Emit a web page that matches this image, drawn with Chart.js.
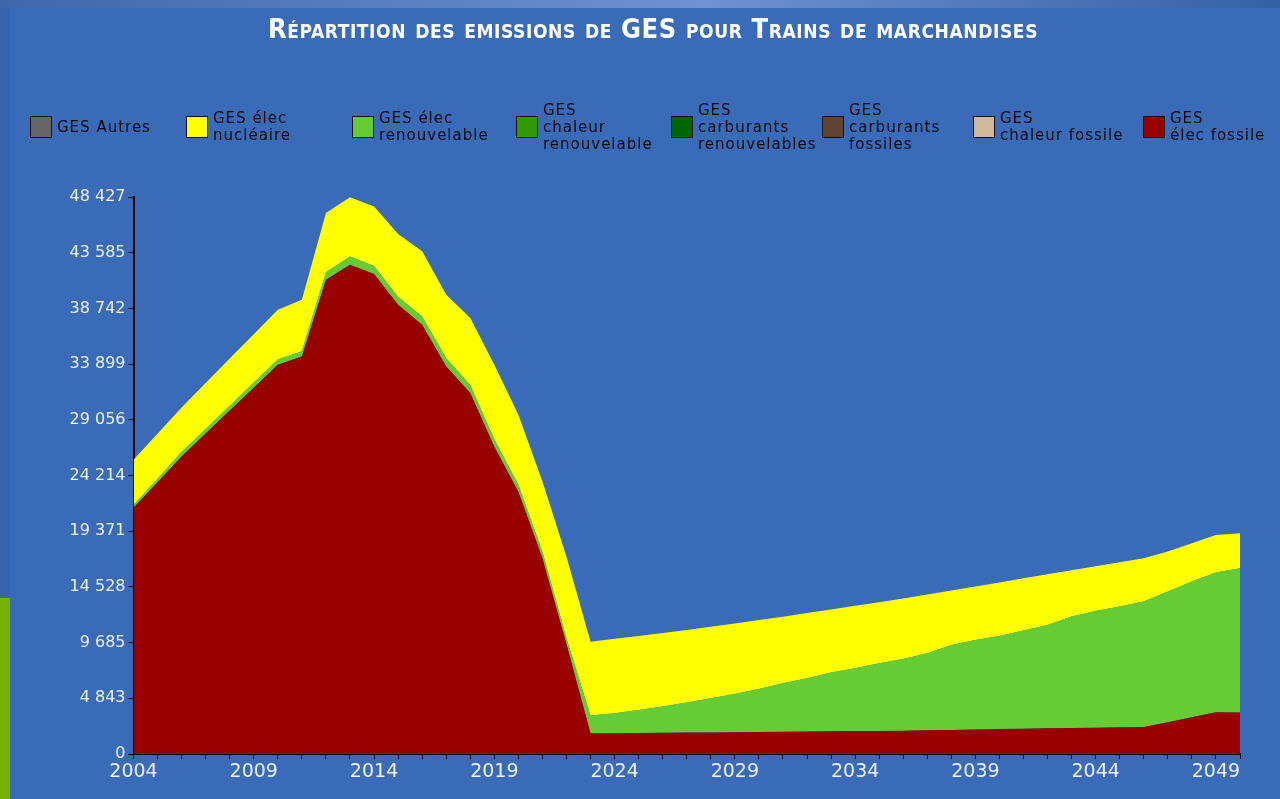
<!DOCTYPE html>
<html>
<head>
<meta charset="utf-8">
<script src="https://cdn.jsdelivr.net/npm/chart.js@4.4.0/dist/chart.umd.min.js"></script>
<style>
    html, body { margin: 0; padding: 0; }
    body {
        width: 1280px; height: 799px; overflow: hidden; position: relative;
        background: #3a6bb8; font-family: "DejaVu Sans", sans-serif;
    }
    #topbar { position: absolute; left: 0; top: 0; width: 1280px; height: 8px;
        background: linear-gradient(to right, #3e68ac, #6f92d0 55%, #3461a6); }
    #leftbar { position: absolute; left: 0; top: 8px; width: 10px; height: 791px;
        background: linear-gradient(to bottom, #3664ae 0, #3664ae 590px, #76b300 590px); }
    #chart { position: absolute; left: 0; top: 0; }
    #title { position: absolute; left: 248px; top: 13px; width: 810px; text-align: center;
        color: #fff; font: bold 27px "DejaVu Sans Condensed", sans-serif; font-variant: small-caps;
        letter-spacing: 0.6px; }
    .item { position: absolute; top: 100px; height: 54px; display: flex; align-items: center; }
    .box { width: 20px; height: 20px; border: 1px solid #111; flex: none; }
    .txt { margin-left: 5px; white-space: pre-line; font-size: 15px; line-height: 17px;
        letter-spacing: 1px; color: #0a0a0a; }
</style>
</head>
<body>
<div id="topbar"></div>
<div id="leftbar"></div>
<canvas id="chart" width="1280" height="799"></canvas>
<div id="title">Répartition des emissions de GES pour Trains de marchandises</div>
<div id="legend"></div>

<script>
// Années
var years = ['2004','2005','2006','2007','2008','2009','2010','2011','2012','2013',
    '2014','2015','2016','2017','2018','2019','2020','2021','2022','2023',
    '2024','2025','2026','2027','2028','2029','2030','2031','2032','2033',
    '2034','2035','2036','2037','2038','2039','2040','2041','2042','2043',
    '2044','2045','2046','2047','2048','2049','2050'];

// Séries (empilées, du bas vers le haut)
var elecFossile = [21400, 23630, 25870, 27860, 29860, 31850, 33840, 34570, 41240, 42540,
    41730, 39060, 37320, 33700, 31380, 26710, 22810, 17030, 9540, 1800,
    1810, 1830, 1850, 1860, 1880, 1900, 1920, 1940, 1960, 1980,
    2000, 2010, 2030, 2060, 2090, 2120, 2170, 2200, 2230, 2260,
    2290, 2320, 2350, 2760, 3200, 3620, 3610];
var elecRenouvelable = [250, 300, 380, 400, 420, 440, 450, 450, 650, 720,
    700, 700, 720, 700, 700, 650, 600, 550, 500, 1550,
    1730, 2000, 2270, 2610, 2960, 3320, 3740, 4210, 4620, 5100,
    5450, 5880, 6220, 6700, 7390, 7800, 8100, 8530, 8990, 9690,
    10150, 10500, 10900, 11360, 11790, 12160, 12540];
var elecNucleaire = [3930, 3920, 3880, 3990, 4100, 4210, 4340, 4480, 5150, 5140,
    5180, 5450, 5660, 5530, 5830, 6480, 6080, 6110, 7100, 6420,
    6470, 6430, 6400, 6320, 6230, 6130, 5990, 5790, 5670, 5480,
    5430, 5310, 5280, 5110, 4740, 4650, 4650, 4540, 4400, 4020,
    3880, 3850, 3770, 3480, 3340, 3270, 3050];
// séries nulles sur toute la période
var sansEmission = [0, 0, 0, 0, 0, 0, 0, 0, 0, 0, 0, 0, 0, 0, 0, 0, 0, 0, 0, 0, 0, 0, 0, 0,
    0, 0, 0, 0, 0, 0, 0, 0, 0, 0, 0, 0, 0, 0, 0, 0, 0, 0, 0, 0, 0, 0, 0];

// Axe Y
var yTickValues = [0, 4842.74, 9685.48, 14528.22, 19370.96, 24213.7, 29056.44, 33899.18, 38741.92, 43584.66, 48427.4];
var yTickLabels = ['0', '4 843', '9 685', '14 528', '19 371', '24 214', '29 056', '33 899', '38 742', '43 585', '48 427'];

var series = [
    { label: 'GES\nélec fossile', data: elecFossile, color: '#990000' },
    { label: 'GES\nchaleur fossile', data: sansEmission, color: '#d2b99b' },
    { label: 'GES\ncarburants\nfossiles', data: sansEmission, color: '#5f4434' },
    { label: 'GES\ncarburants\nrenouvelables', data: sansEmission, color: '#006600' },
    { label: 'GES\nchaleur\nrenouvelable', data: sansEmission, color: '#339900' },
    { label: 'GES élec\nrenouvelable', data: elecRenouvelable, color: '#66cc33' },
    { label: 'GES élec\nnucléaire', data: elecNucleaire, color: '#ffff00' },
    { label: 'GES Autres', data: sansEmission, color: '#666666' }
];

var legendX = [30, 186, 352, 516, 671, 822, 973, 1143];

var datasets = series.map(function(s, i) {
    return {
        label: s.label,
        data: s.data,
        backgroundColor: s.color,
        borderColor: s.color,
        borderWidth: 0,
        pointRadius: 0,
        tension: 0,
        fill: i === 0 ? 'origin' : '-1'
    };
});

var chart = new Chart(document.getElementById('chart'), {
    type: 'line',
    data: { labels: years, datasets: datasets },
    options: {
        responsive: false,
        animation: false,
        devicePixelRatio: 1,
        layout: { padding: { left: 0, top: 197, right: 40, bottom: 0 } },
        plugins: { legend: { display: false }, tooltip: { enabled: false } },
        scales: {
            x: {
                offset: false,
                grid: { drawOnChartArea: false, drawTicks: true, tickLength: 5, tickColor: '#000' },
                border: { display: true, color: '#000', width: 2 },
                ticks: {
                    autoSkip: false, maxRotation: 0, padding: 2,
                    color: '#eef2fa', font: { family: 'DejaVu Sans', size: 19 },
                    callback: function(v, i) { return i % 5 === 0 ? years[i] : ''; }
                },
                afterFit: function(scale) { scale.height = 45; }
            },
            y: {
                stacked: true,
                min: 0,
                max: yTickValues[yTickValues.length - 1],
                grid: { drawOnChartArea: false, drawTicks: true, tickLength: 5, tickColor: '#000' },
                border: { display: true, color: '#000', width: 2 },
                ticks: {
                    padding: 3,
                    color: '#eef2fa', font: { family: 'DejaVu Sans', size: 16 },
                    callback: function(v, i) { return yTickLabels[i]; }
                },
                afterBuildTicks: function(axis) {
                    axis.ticks = yTickValues.map(function(v) { return { value: v }; });
                },
                afterFit: function(scale) { scale.width = 133.5; }
            }
        }
    }
});

// Légende
var legend = document.getElementById('legend');
chart.data.datasets.slice().reverse().forEach(function(ds, i) {
    var item = document.createElement('div');
    item.className = 'item';
    item.style.left = legendX[i] + 'px';
    item.innerHTML = '<div class="box" style="background:' + ds.backgroundColor + '"></div>' +
        '<div class="txt"></div>';
    item.querySelector('.txt').textContent = ds.label;
    legend.appendChild(item);
});
</script>
</body>
</html>
